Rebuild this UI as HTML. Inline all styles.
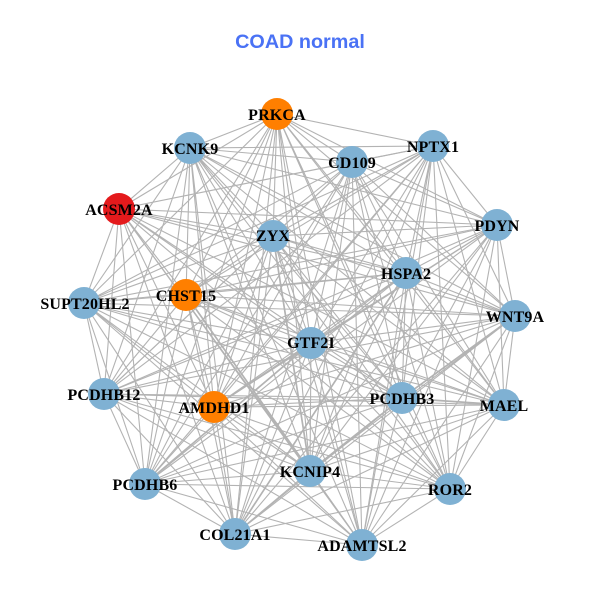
<!DOCTYPE html>
<html><head><meta charset="utf-8"><style>
html,body{margin:0;padding:0;background:#fff}
svg{display:block}
.l{font:bold 16px "Liberation Serif",serif;fill:#000;text-anchor:middle;letter-spacing:.15px}
</style></head><body>
<svg width="600" height="600" viewBox="0 0 600 600" xmlns="http://www.w3.org/2000/svg">
<rect width="600" height="600" fill="#fff"/>
<text x="300" y="48" text-anchor="middle" style="font:bold 19.8px 'Liberation Sans',sans-serif;fill:#4a72f5">COAD normal</text>
<g fill="none" stroke="#b3b3b3" stroke-width="1.1">
<path d="M277 114L190 148 277 114 119 209 277 114 273 236 277 114 186 295 277 114 84 303 277 114 433 146 277 114 352 162 277 114 497 225 277 114 406 273 277 114 515 316 277 114 311 343 277 114 104 394 277 114 214 407 277 114 402 398 277 114 504 405 277 114 145 484 277 114 310 471 277 114 450 489 277 114 235 534 277 114 362 545"/>
<path d="M190 148L119 209 190 148 273 236 190 148 186 295 190 148 84 303 190 148 433 146 190 148 352 162 190 148 497 225 190 148 406 273 190 148 515 316 190 148 311 343 190 148 104 394 190 148 214 407 190 148 402 398 190 148 504 405 190 148 145 484 190 148 310 471 190 148 450 489 190 148 235 534 190 148 362 545"/>
<path d="M119 209L273 236 119 209 186 295 119 209 84 303 119 209 433 146 119 209 352 162 119 209 497 225 119 209 406 273 119 209 515 316 119 209 311 343 119 209 104 394 119 209 214 407 119 209 402 398 119 209 504 405 119 209 145 484 119 209 310 471 119 209 450 489 119 209 235 534 119 209 362 545"/>
<path d="M273 236L186 295 273 236 84 303 273 236 433 146 273 236 352 162 273 236 497 225 273 236 406 273 273 236 515 316 273 236 311 343 273 236 104 394 273 236 214 407 273 236 402 398 273 236 504 405 273 236 145 484 273 236 310 471 273 236 450 489 273 236 235 534 273 236 362 545"/>
<path d="M186 295L84 303 186 295 433 146 186 295 352 162 186 295 497 225 186 295 406 273 186 295 515 316 186 295 311 343 186 295 104 394 186 295 214 407 186 295 402 398 186 295 504 405 186 295 145 484 186 295 310 471 186 295 450 489 186 295 235 534 186 295 362 545"/>
<path d="M84 303L433 146 84 303 352 162 84 303 497 225 84 303 406 273 84 303 515 316 84 303 311 343 84 303 104 394 84 303 214 407 84 303 402 398 84 303 504 405 84 303 145 484 84 303 310 471 84 303 450 489 84 303 235 534 84 303 362 545"/>
<path d="M433 146L352 162 433 146 497 225 433 146 406 273 433 146 515 316 433 146 311 343 433 146 104 394 433 146 214 407 433 146 402 398 433 146 504 405 433 146 145 484 433 146 310 471 433 146 450 489 433 146 235 534 433 146 362 545"/>
<path d="M352 162L497 225 352 162 406 273 352 162 515 316 352 162 311 343 352 162 104 394 352 162 214 407 352 162 402 398 352 162 504 405 352 162 145 484 352 162 310 471 352 162 450 489 352 162 235 534 352 162 362 545"/>
<path d="M497 225L406 273 497 225 515 316 497 225 311 343 497 225 104 394 497 225 214 407 497 225 402 398 497 225 504 405 497 225 145 484 497 225 310 471 497 225 450 489 497 225 235 534 497 225 362 545"/>
<path d="M406 273L515 316 406 273 311 343 406 273 104 394 406 273 214 407 406 273 402 398 406 273 504 405 406 273 145 484 406 273 310 471 406 273 450 489 406 273 235 534 406 273 362 545"/>
<path d="M515 316L311 343 515 316 104 394 515 316 214 407 515 316 402 398 515 316 504 405 515 316 145 484 515 316 310 471 515 316 450 489 515 316 235 534 515 316 362 545"/>
<path d="M311 343L104 394 311 343 214 407 311 343 402 398 311 343 504 405 311 343 145 484 311 343 310 471 311 343 450 489 311 343 235 534 311 343 362 545"/>
<path d="M104 394L214 407 104 394 402 398 104 394 504 405 104 394 145 484 104 394 310 471 104 394 450 489 104 394 235 534 104 394 362 545"/>
<path d="M214 407L402 398 214 407 504 405 214 407 145 484 214 407 310 471 214 407 450 489 214 407 235 534 214 407 362 545"/>
<path d="M402 398L504 405 402 398 145 484 402 398 310 471 402 398 450 489 402 398 235 534 402 398 362 545"/>
<path d="M504 405L145 484 504 405 310 471 504 405 450 489 504 405 235 534 504 405 362 545"/>
<path d="M145 484L310 471 145 484 450 489 145 484 235 534 145 484 362 545"/>
<path d="M310 471L450 489 310 471 235 534 310 471 362 545"/>
<path d="M450 489L235 534 450 489 362 545"/>
<path d="M235 534L362 545"/>
</g>
<g stroke="#b3b3b3" stroke-width="1.7" fill="none">
<path d="M402 398L504 405M310 471L402 398 515 316M214 407L311 343M145 484L311 343M235 534L406 273M273 236L310 471M186 295L310 471"/>
</g>
<g fill="#7fb1d3">
<circle cx="190" cy="148" r="16"/><circle cx="273" cy="236" r="16"/><circle cx="84" cy="303" r="16"/><circle cx="433" cy="146" r="16"/><circle cx="352" cy="162" r="16"/><circle cx="497" cy="225" r="16"/><circle cx="406" cy="273" r="16"/><circle cx="515" cy="316" r="16"/><circle cx="311" cy="343" r="16"/><circle cx="104" cy="394" r="16"/><circle cx="402" cy="398" r="16"/><circle cx="504" cy="405" r="16"/><circle cx="145" cy="484" r="16"/><circle cx="310" cy="471" r="16"/><circle cx="450" cy="489" r="16"/><circle cx="235" cy="534" r="16"/><circle cx="362" cy="545" r="16"/>
</g>
<g fill="#ff7f00"><circle cx="277" cy="114" r="16"/><circle cx="186" cy="295" r="16"/><circle cx="214" cy="407" r="16"/></g>
<circle cx="119" cy="209" r="16" fill="#e41a1c"/>
<g>
<text class="l" x="277" y="120">PRKCA</text>
<text class="l" x="190" y="154">KCNK9</text>
<text class="l" x="119" y="215">ACSM2A</text>
<text class="l" x="273" y="241">ZYX</text>
<text class="l" x="186" y="301">CHST15</text>
<text class="l" x="85" y="309">SUPT20HL2</text>
<text class="l" x="433" y="152">NPTX1</text>
<text class="l" x="352" y="168">CD109</text>
<text class="l" x="497" y="231">PDYN</text>
<text class="l" x="406" y="279">HSPA2</text>
<text class="l" x="515" y="322">WNT9A</text>
<text class="l" x="311" y="348">GTF2I</text>
<text class="l" x="104" y="400">PCDHB12</text>
<text class="l" x="214" y="413">AMDHD1</text>
<text class="l" x="402" y="404">PCDHB3</text>
<text class="l" x="504" y="411">MAEL</text>
<text class="l" x="145" y="490">PCDHB6</text>
<text class="l" x="310" y="477">KCNIP4</text>
<text class="l" x="450" y="495">ROR2</text>
<text class="l" x="235" y="540">COL21A1</text>
<text class="l" x="362" y="551">ADAMTSL2</text>
</g>
</svg>
</body></html>
